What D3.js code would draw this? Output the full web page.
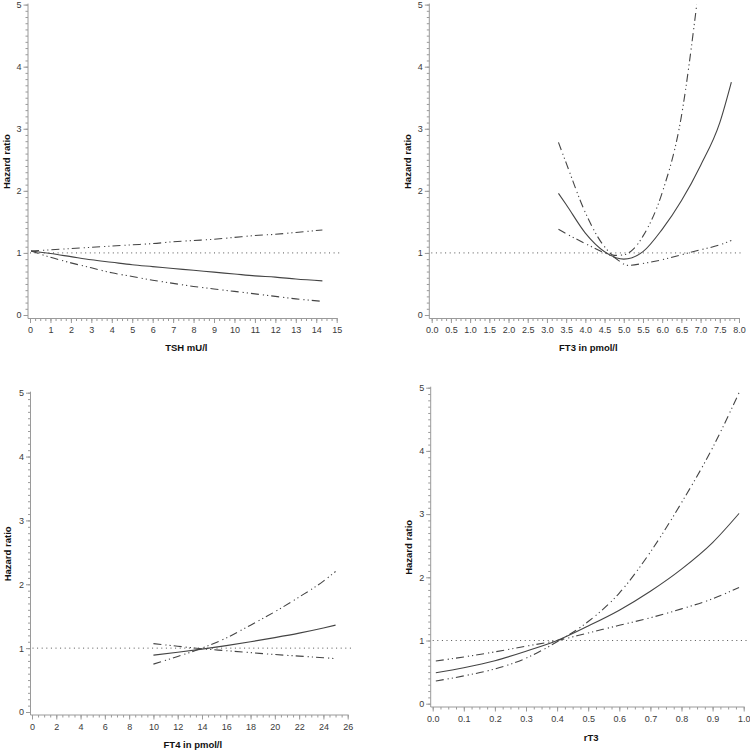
<!DOCTYPE html>
<html>
<head>
<meta charset="utf-8">
<script src="https://cdn.jsdelivr.net/npm/d3@7"></script>
<style>
  body { margin: 0; background: #fff; }
  svg { display: block; font-family: "Liberation Sans", Arial, sans-serif; }
  .tick text { fill: #3a3a3a; font-size: 9px; }
  .axisTitle { fill: #111; font-size: 9.5px; font-weight: bold; }
</style>
</head>
<body>
<svg id="chart" width="750" height="752"></svg>
<script>
// Panel 1: TSH
var tshX     = [0.05, 1, 2, 3, 4, 5, 6, 7, 8, 9, 10, 11, 12, 13, 14.3];
var tshEst   = [1.03, 0.99, 0.94, 0.89, 0.85, 0.81, 0.78, 0.75, 0.72, 0.69, 0.66, 0.63, 0.61, 0.58, 0.55];
var tshUpper = [1.03, 1.05, 1.07, 1.09, 1.11, 1.13, 1.15, 1.18, 1.20, 1.22, 1.25, 1.28, 1.30, 1.33, 1.37];
var tshLower = [1.03, 0.93, 0.84, 0.76, 0.68, 0.62, 0.56, 0.51, 0.46, 0.42, 0.38, 0.34, 0.30, 0.26, 0.22];
var tshTicks = d3.range(0, 16, 1);

// Panel 2: FT3
var ft3X      = [3.3, 3.5, 4.0, 4.5, 5.0, 5.5, 6.0, 6.5, 7.0, 7.5, 7.8];
var ft3Est    = [1.96, 1.78, 1.32, 1.02, 0.90, 1.02, 1.38, 1.84, 2.41, 3.10, 3.75];
var ft3AX     = [3.3, 3.5, 4.0, 4.5, 4.75, 5.0, 5.25, 5.5, 6.0, 6.5, 6.9];
var ft3A      = [2.78, 2.45, 1.65, 1.10, 0.96, 0.97, 1.06, 1.27, 1.97, 3.20, 5.0];
var ft3BX     = [3.3, 3.5, 4.0, 4.5, 4.75, 5.0, 5.1, 5.5, 6.0, 6.5, 7.0, 7.5, 7.8];
var ft3B      = [1.38, 1.31, 1.15, 1.00, 0.93, 0.82, 0.80, 0.83, 0.89, 0.97, 1.05, 1.13, 1.20];
var ft3Ticks  = d3.range(0, 8.01, 0.5);

// Panel 3: FT4
var ft4X     = [10, 12, 14, 16, 18, 20, 22, 24, 25];
var ft4Est   = [0.89, 0.935, 0.985, 1.04, 1.10, 1.165, 1.235, 1.315, 1.36];
var ft4A     = [0.75, 0.87, 1.00, 1.16, 1.36, 1.57, 1.80, 2.05, 2.20];
var ft4B     = [1.07, 1.03, 0.99, 0.96, 0.93, 0.90, 0.875, 0.85, 0.835];
var ft4Ticks = d3.range(0, 27, 2);

// Panel 4: rT3
var rt3X     = [0.01, 0.1, 0.2, 0.3, 0.4, 0.5, 0.6, 0.7, 0.8, 0.9, 0.985];
var rt3Est   = [0.49, 0.57, 0.68, 0.83, 1.0, 1.23, 1.48, 1.78, 2.13, 2.55, 3.01];
var rt3A     = [0.675, 0.74, 0.82, 0.91, 1.0, 1.12, 1.24, 1.36, 1.50, 1.66, 1.84];
var rt3B     = [0.36, 0.44, 0.55, 0.72, 0.98, 1.30, 1.75, 2.40, 3.18, 4.05, 4.92];
var rt3Ticks = d3.range(0, 1.001, 0.1);

var hrTicks = [0, 1, 2, 3, 4, 5];

function zip(xs, ys)
{
  return xs.map(function(x, i){ return [x, ys[i]]; });
}

var panels = [
  { title: "TSH mU/l", xMax: 15, ticks: tshTicks, fmt: d3.format("d"), minor: 4,
    box: { x0: 30, x1: 336.7, yAxisX: 28, y0: 315, y5: 4.6, axisY: 318.5, titleY: 351, labX: 7 },
    est: zip(tshX, tshEst), a: zip(tshX, tshUpper), b: zip(tshX, tshLower) },
  { title: "FT3 in pmol/l", xMax: 8, ticks: ft3Ticks, fmt: d3.format(".1f"), minor: 4,
    box: { x0: 431.7, x1: 739, yAxisX: 429.3, y0: 315, y5: 4.6, axisY: 318.5, titleY: 351, labX: 408 },
    est: zip(ft3X, ft3Est), a: zip(ft3AX, ft3A), b: zip(ft3BX, ft3B) },
  { title: "FT4 in pmol/l", xMax: 26, ticks: ft4Ticks, fmt: d3.format("d"), minor: 4,
    box: { x0: 32, x1: 347.7, yAxisX: 30.5, y0: 712, y5: 392.7, axisY: 715, titleY: 748, labX: 8 },
    est: zip(ft4X, ft4Est), a: zip(ft4X, ft4A), b: zip(ft4X, ft4B) },
  { title: "rT3", xMax: 1, ticks: rt3Ticks, fmt: d3.format(".1f"), minor: 4,
    box: { x0: 432.7, x1: 743.7, yAxisX: 430.7, y0: 703.7, y5: 387.7, axisY: 707, titleY: 741, labX: 409 },
    est: zip(rt3X, rt3Est), a: zip(rt3X, rt3A), b: zip(rt3X, rt3B) }
];

var svg = d3.select("#chart");
var axisColor = "#9a9a9a";
var lineColor = "#444";
var dashDotDot = "8,4,1.2,3,1.2,3";

panels.forEach(function(p){
  var bx = p.box;
  var x = d3.scaleLinear().domain([0, p.xMax]).range([bx.x0, bx.x1]);
  var y = d3.scaleLinear().domain([0, 5]).range([bx.y0, bx.y5]);
  var g = svg.append("g");

  // minor ticks, x
  var step = p.ticks[1] - p.ticks[0];
  var minorX = d3.range(0, p.xMax + 1e-9, step / p.minor);
  g.append("g")
    .attr("transform", "translate(0," + bx.axisY + ")")
    .call(d3.axisBottom(x).tickValues(minorX).tickSize(2.5).tickSizeOuter(0).tickFormat(""))
    .call(function(s){ s.select(".domain").remove(); s.selectAll("line").attr("stroke", axisColor); });

  // major ticks, x
  g.append("g")
    .attr("transform", "translate(0," + bx.axisY + ")")
    .call(d3.axisBottom(x).tickValues(p.ticks).tickSize(4.5).tickSizeOuter(0).tickPadding(4).tickFormat(p.fmt))
    .call(function(s){ s.select(".domain").remove(); s.selectAll("line").attr("stroke", axisColor); });

  // minor ticks, y
  g.append("g")
    .attr("transform", "translate(" + bx.yAxisX + ",0)")
    .call(d3.axisLeft(y).tickValues(d3.range(0, 5.001, 0.1)).tickSize(2.5).tickSizeOuter(0).tickFormat(""))
    .call(function(s){ s.select(".domain").remove(); s.selectAll("line").attr("stroke", axisColor); });

  // major ticks, y
  g.append("g")
    .attr("transform", "translate(" + bx.yAxisX + ",0)")
    .call(d3.axisLeft(y).tickValues(hrTicks).tickSize(4.5).tickSizeOuter(0).tickPadding(2).tickFormat(d3.format("d")))
    .call(function(s){ s.select(".domain").remove(); s.selectAll("line").attr("stroke", axisColor); });

  // axis lines
  g.append("line")
    .attr("x1", bx.yAxisX).attr("x2", bx.yAxisX)
    .attr("y1", y(5) - 1).attr("y2", bx.axisY)
    .attr("stroke", axisColor).attr("stroke-width", 1);
  g.append("line")
    .attr("x1", bx.yAxisX).attr("x2", x(p.xMax) + 1)
    .attr("y1", bx.axisY).attr("y2", bx.axisY)
    .attr("stroke", axisColor).attr("stroke-width", 1);

  // reference line at HR = 1
  g.append("line")
    .attr("x1", bx.yAxisX + 2).attr("x2", x(p.xMax) + 4)
    .attr("y1", y(1)).attr("y2", y(1))
    .attr("stroke", "#555").attr("stroke-width", 1)
    .attr("stroke-dasharray", "1,3.6");

  // curves
  var line = d3.line()
    .x(function(d){ return x(d[0]); })
    .y(function(d){ return y(d[1]); })
    .curve(d3.curveMonotoneX);

  g.append("path").datum(p.a).attr("d", line)
    .attr("fill", "none").attr("stroke", lineColor).attr("stroke-width", 1.1)
    .attr("stroke-dasharray", dashDotDot);
  g.append("path").datum(p.b).attr("d", line)
    .attr("fill", "none").attr("stroke", lineColor).attr("stroke-width", 1.1)
    .attr("stroke-dasharray", dashDotDot);
  g.append("path").datum(p.est).attr("d", line)
    .attr("fill", "none").attr("stroke", lineColor).attr("stroke-width", 1.1);

  // titles
  g.append("text")
    .attr("class", "axisTitle")
    .attr("x", (bx.x0 + x(p.xMax)) / 2 + 3)
    .attr("y", bx.titleY)
    .attr("text-anchor", "middle")
    .text(p.title);
  g.append("text")
    .attr("class", "axisTitle")
    .attr("transform", "translate(" + bx.labX + "," + ((y(5) + bx.axisY) / 2) + ") rotate(-90)")
    .attr("dy", "0.35em")
    .attr("text-anchor", "middle")
    .text("Hazard ratio");
});
</script>
</body>
</html>
